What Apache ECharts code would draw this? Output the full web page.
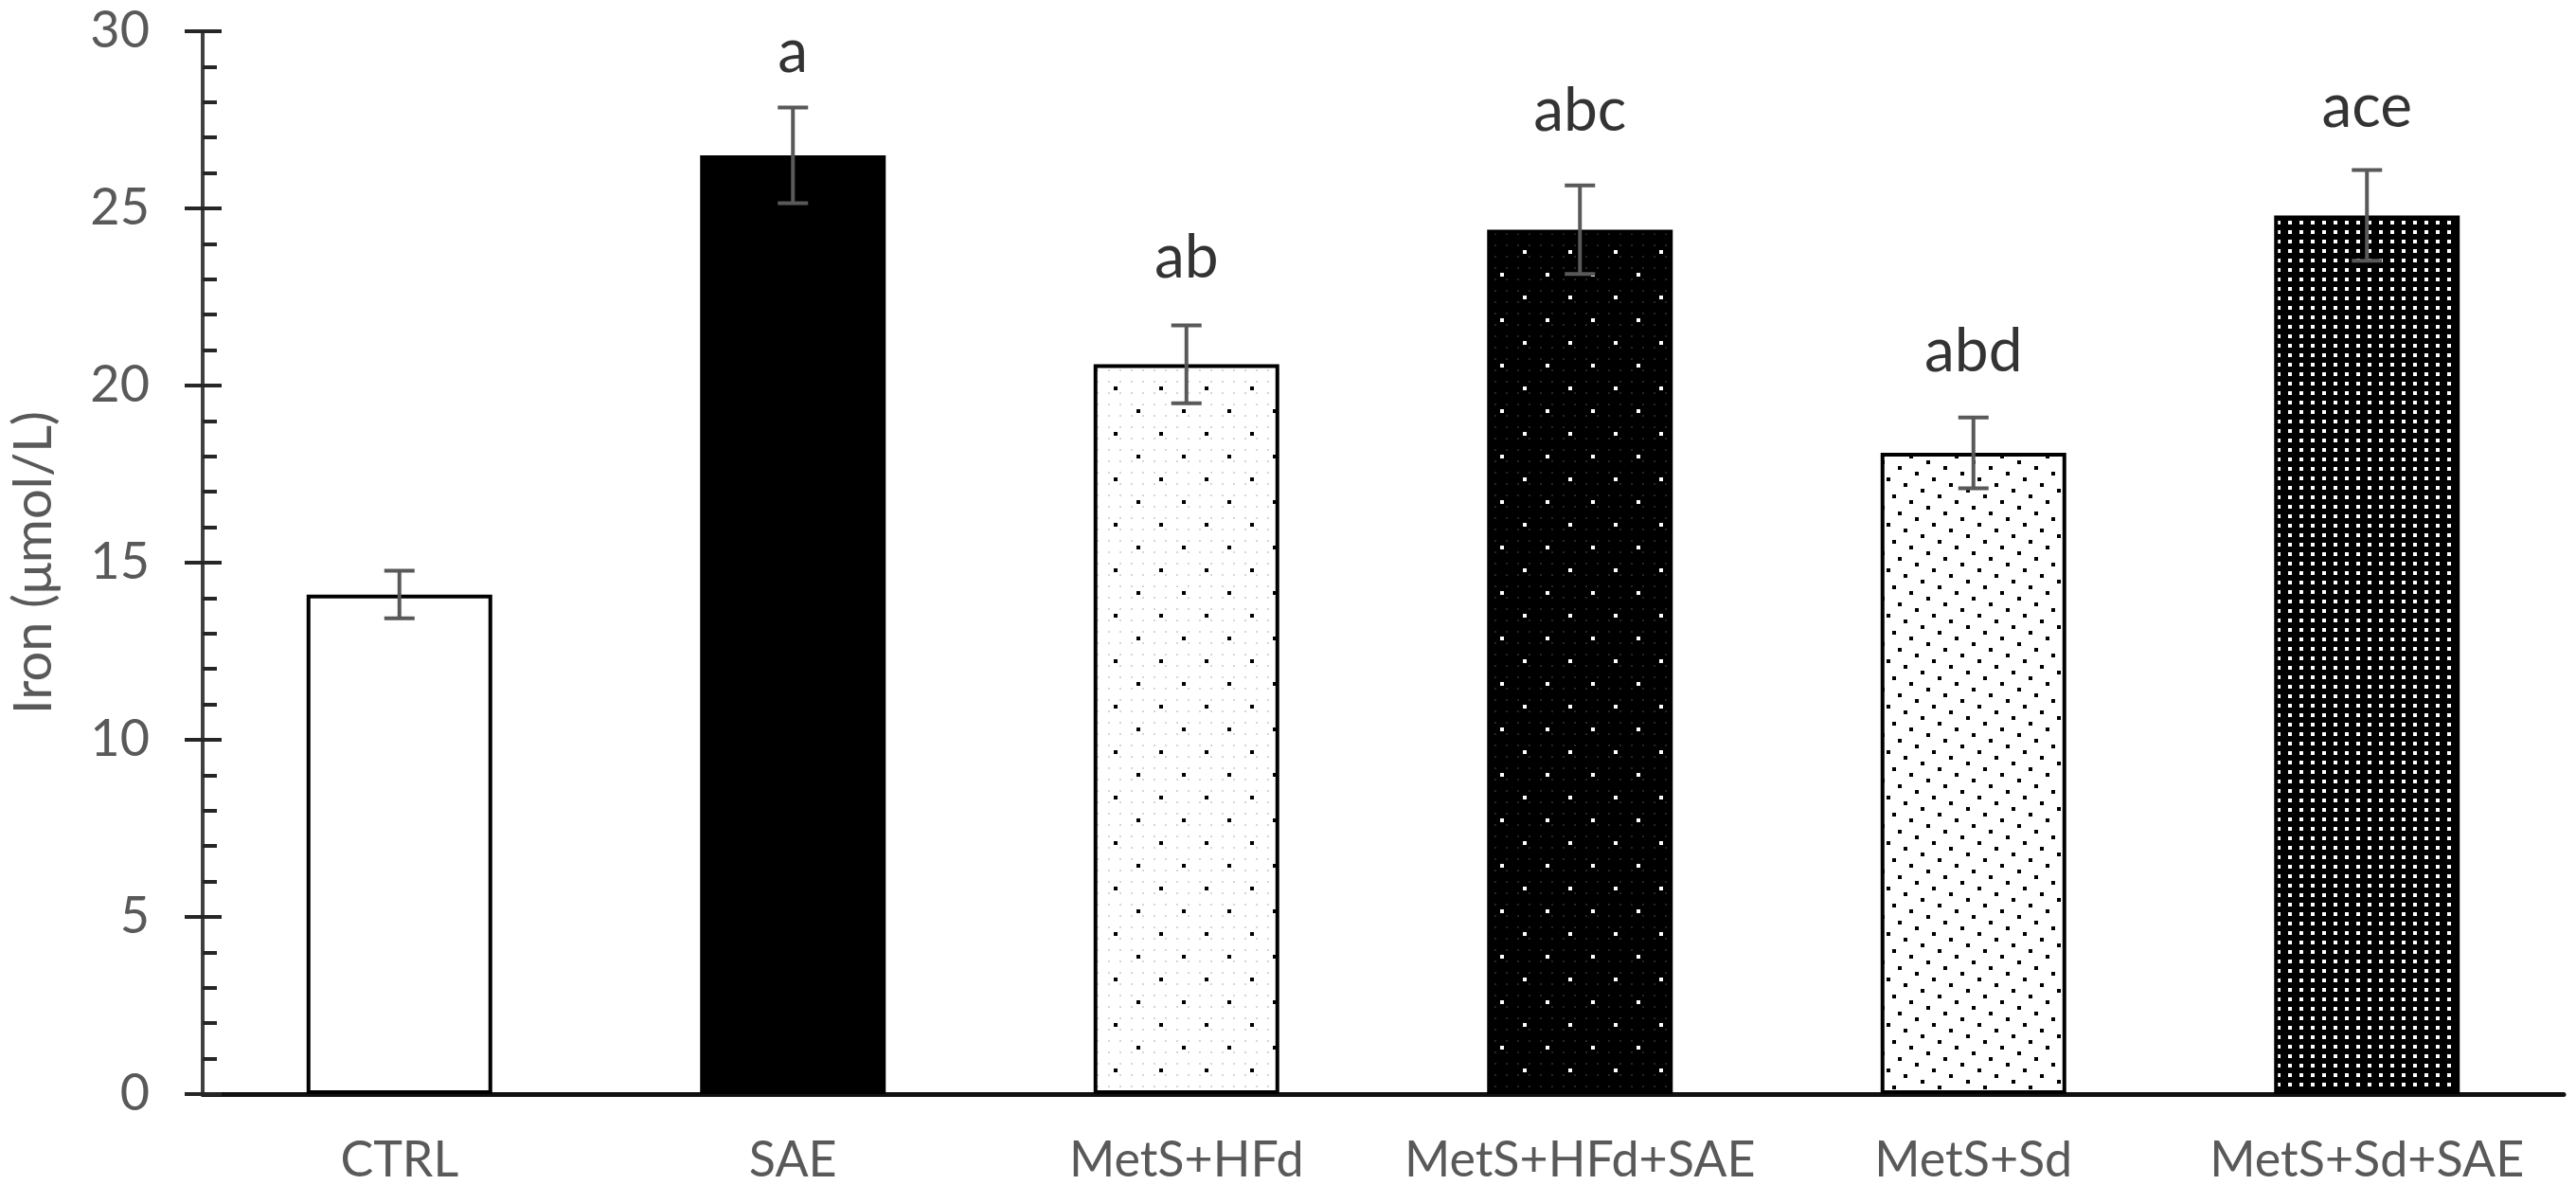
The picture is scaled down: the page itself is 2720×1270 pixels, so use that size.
<!DOCTYPE html>
<html>
<head>
<meta charset="utf-8">
<title>Iron (μmol/L)</title>
<script src="https://cdn.jsdelivr.net/npm/echarts@6/dist/echarts.min.js"></script>
<style>
  html, body { margin: 0; background: #fff; }
  #chart { width: 2720px; height: 1270px; }
</style>
</head>
<body>
<div id="chart"></div>
<script>
// values
var groups = ['CTRL', 'SAE', 'MetS+HFd', 'MetS+HFd+SAE', 'MetS+Sd', 'MetS+Sd+SAE'];
var ironMean = [14.1, 26.5, 20.6, 24.4, 18.1, 24.8];
var ironErr = [0.67, 1.35, 1.1, 1.25, 1.0, 1.28];
var sigLetters = ['', 'a', 'ab', 'abc', 'abd', 'ace'];
var letterY = [0, 29.4, 23.6, 27.75, 20.95, 27.85];

var FONT = 'Lato';
var GREY = '#595959';

// small repeating tiles for the bar fills
function tile(w, h, bg, paint) {
  var c = document.createElement('canvas');
  c.width = w; c.height = h;
  var g = c.getContext('2d');
  g.fillStyle = bg;
  g.fillRect(0, 0, w, h);
  paint(g);
  return c;
}
function dots(g, color, pts, s) {
  g.fillStyle = color;
  pts.forEach(function (p) { g.fillRect(p[0], p[1], s, s); });
}
function grid(step, off) {
  var pts = [];
  for (var x = off; x < 48; x += step)
    for (var y = off; y < 48; y += step) pts.push([x, y]);
  return pts;
}

var sparseLight = tile(48, 48, '#fff', function (g) {
  dots(g, '#d6d6d6', grid(12, 6), 2);
  dots(g, '#000', [[0, 0], [24, 24]], 4);
});
var sparseDark = tile(48, 48, '#000', function (g) {
  dots(g, '#262626', grid(12, 6), 2);
  dots(g, '#fff', [[0, 0], [24, 24]], 4);
});
var denseLight = tile(48, 48, '#fff', function (g) {
  var pts = [];
  for (var k = 0; k < 8; k++) pts.push([(k * 18) % 48, k * 6]);
  dots(g, '#000', pts, 4);
});
var denseDark = tile(12, 10, '#000', function (g) {
  dots(g, '#fff', [[4, 3]], 4);
});

var fills = [
  '#fff',
  '#000',
  { image: sparseLight, repeat: 'repeat' },
  { image: sparseDark, repeat: 'repeat' },
  { image: denseLight, repeat: 'repeat' },
  { image: denseDark, repeat: 'repeat' }
];

var chart = echarts.init(document.getElementById('chart'));

var option = {
  animation: false,
  backgroundColor: '#fff',
  grid: { left: 214, right: 13, top: 33, bottom: 115 },
  xAxis: {
    type: 'category',
    data: groups,
    axisLine: { show: true, lineStyle: { color: '#111', width: 5 } },
    axisTick: { show: false },
    axisLabel: { interval: 0, color: GREY, fontFamily: FONT, fontSize: 52, margin: 44 },
    splitLine: { show: false }
  },
  yAxis: [{
    type: 'value',
    min: 0, max: 30, interval: 5,
    name: 'Iron (μmol/L)',
    nameLocation: 'middle',
    nameGap: 150,
    nameTextStyle: { color: GREY, fontFamily: FONT, fontSize: 56 },
    axisLine: { show: true, lineStyle: { color: '#404040', width: 4 } },
    axisTick: { show: true, inside: true, length: 20, lineStyle: { color: '#262626', width: 4 } },
    minorTick: { show: true, splitNumber: 5, length: 15, lineStyle: { color: '#262626', width: 4 } },
    axisLabel: { color: GREY, fontFamily: FONT, fontSize: 54, margin: 56 },
    splitLine: { show: false }
  }, {
    type: 'value',
    position: 'left',
    min: 0, max: 30, interval: 5,
    axisLine: { show: false },
    axisTick: { show: true, inside: false, length: 19, lineStyle: { color: '#262626', width: 4 } },
    axisLabel: { show: false },
    splitLine: { show: false }
  }],
  series: [{
    type: 'bar',
    yAxisIndex: 0,
    barWidth: 196,
    data: ironMean.map(function (v, i) {
      return { value: v, itemStyle: { color: fills[i], borderColor: '#000', borderWidth: 4 } };
    })
  }, {
    type: 'custom',
    yAxisIndex: 0,
    z: 5,
    data: ironMean.map(function (v, i) { return [i, v - ironErr[i], v + ironErr[i]]; }),
    renderItem: function (params, api) {
      var lo = api.coord([api.value(0), api.value(1)]);
      var hi = api.coord([api.value(0), api.value(2)]);
      var half = 16;
      var style = { stroke: GREY, lineWidth: 4 };
      return {
        type: 'group',
        children: [
          { type: 'line', shape: { x1: hi[0], y1: hi[1], x2: lo[0], y2: lo[1] }, style: style },
          { type: 'line', shape: { x1: hi[0] - half, y1: hi[1], x2: hi[0] + half, y2: hi[1] }, style: style },
          { type: 'line', shape: { x1: lo[0] - half, y1: lo[1], x2: lo[0] + half, y2: lo[1] }, style: style }
        ]
      };
    }
  }, {
    type: 'scatter',
    yAxisIndex: 0,
    symbolSize: 0,
    silent: true,
    data: letterY.map(function (y, i) { return [i, y]; }),
    label: {
      show: true,
      position: 'inside',
      color: '#000',
      fontFamily: FONT,
      fontSize: 64,
      formatter: function (p) { return sigLetters[p.dataIndex]; }
    }
  }]
};

chart.setOption(option);
window.onresize = function () { chart.resize(); };
</script>
</body>
</html>
